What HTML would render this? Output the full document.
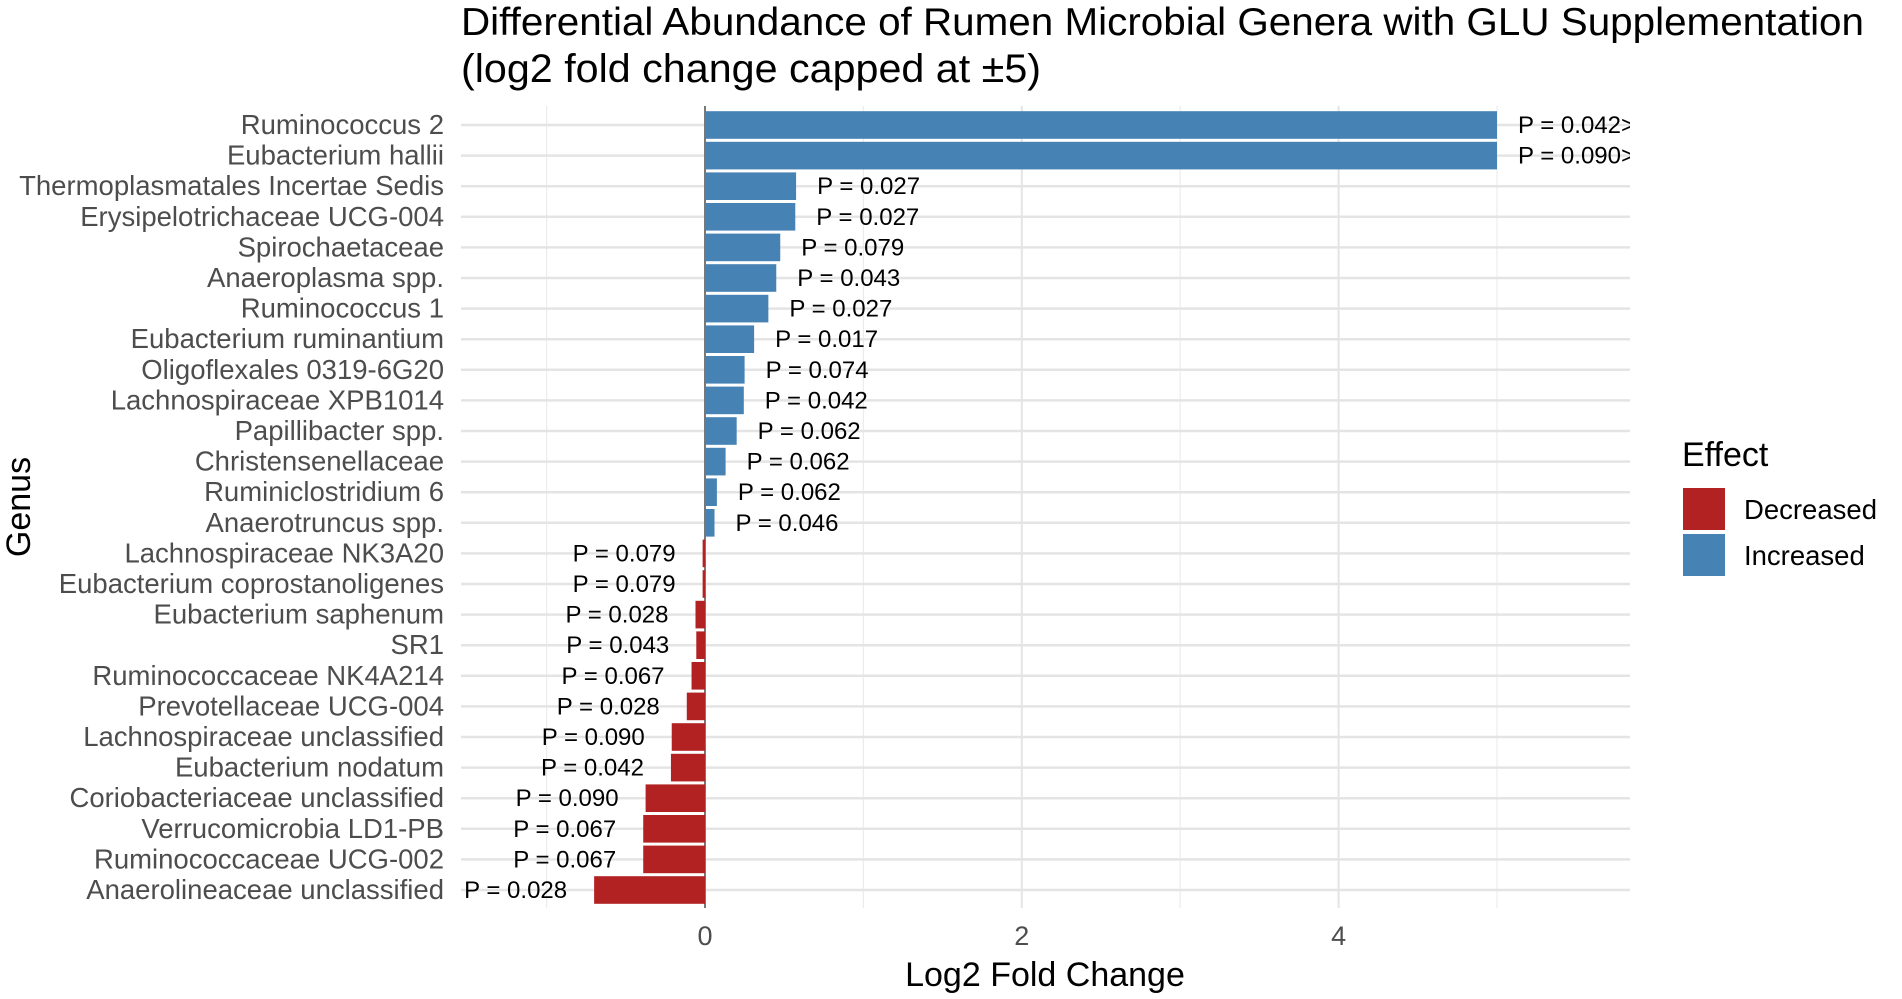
<!DOCTYPE html>
<html><head><meta charset="utf-8"><style>
html,body{margin:0;padding:0;background:#fff;}
svg{display:block;font-family:"Liberation Sans",Arial,sans-serif;}
</style></head><body>
<svg id="chart" width="1902" height="999" viewBox="0 0 1902 999">
<text x="461" y="35" font-size="39" fill="#000" textLength="1403" lengthAdjust="spacingAndGlyphs">Differential Abundance of Rumen Microbial Genera with GLU Supplementation</text>
<text x="461" y="82" font-size="40" fill="#000" textLength="580" lengthAdjust="spacingAndGlyphs">(log2 fold change capped at ±5)</text>
<g id="grid"></g>
<g id="bars"></g>
<text x="1045" y="986" font-size="34" text-anchor="middle" fill="#000">Log2 Fold Change</text>
<text transform="translate(30,507) rotate(-90)" font-size="34" text-anchor="middle" fill="#000">Genus</text>
<g>
<text x="1682" y="466" font-size="34" fill="#000">Effect</text>
<rect x="1683" y="488" width="42" height="42" fill="#B22222"/>
<text x="1744" y="519" font-size="27.5" fill="#000">Decreased</text>
<rect x="1683" y="534" width="42" height="42" fill="#4682B4"/>
<text x="1744" y="565" font-size="27.5" fill="#000">Increased</text>
</g>
<defs><clipPath id="panel"><rect x="461" y="106" width="1169" height="802"/></clipPath></defs>
</svg>
<script>
const genera = ["Ruminococcus 2","Eubacterium hallii","Thermoplasmatales Incertae Sedis","Erysipelotrichaceae UCG-004","Spirochaetaceae","Anaeroplasma spp.","Ruminococcus 1","Eubacterium ruminantium","Oligoflexales 0319-6G20","Lachnospiraceae XPB1014","Papillibacter spp.","Christensenellaceae","Ruminiclostridium 6","Anaerotruncus spp.","Lachnospiraceae NK3A20","Eubacterium coprostanoligenes","Eubacterium saphenum","SR1","Ruminococcaceae NK4A214","Prevotellaceae UCG-004","Lachnospiraceae unclassified","Eubacterium  nodatum","Coriobacteriaceae unclassified","Verrucomicrobia LD1-PB","Ruminococcaceae UCG-002","Anaerolineaceae unclassified"];
const log2fc = [5,5,0.575,0.57,0.475,0.45,0.40,0.31,0.25,0.245,0.20,0.13,0.075,0.06,-0.015,-0.015,-0.06,-0.055,-0.085,-0.115,-0.21,-0.215,-0.375,-0.39,-0.39,-0.70];
const pLabels = ["P = 0.042>","P = 0.090>","P = 0.027","P = 0.027","P = 0.079","P = 0.043","P = 0.027","P = 0.017","P = 0.074","P = 0.042","P = 0.062","P = 0.062","P = 0.062","P = 0.046","P = 0.079","P = 0.079","P = 0.028","P = 0.043","P = 0.067","P = 0.028","P = 0.090","P = 0.042","P = 0.090","P = 0.067","P = 0.067","P = 0.028"];
const xTicks = [0,2,4];
const xMinor = [-1,1,3,5];

const NS="http://www.w3.org/2000/svg";
const svg=document.getElementById('chart');
const grid=document.getElementById('grid');
const barsG=document.getElementById('bars');
const X0=705, UNIT=158.4, PT=106, PB=908, PL=461, PR=1630;
const ROW0=125, STEP=30.6;
const xs=v=>X0+v*UNIT;
const ys=i=>ROW0+i*STEP;
function mk(tag,attrs,parent){const e=document.createElementNS(NS,tag);for(const k in attrs)e.setAttribute(k,attrs[k]);parent.appendChild(e);return e;}

xMinor.forEach(v=>{
  const l=mk('line',{x1:xs(v),x2:xs(v),y1:PT,y2:PB,stroke:'#ececec','stroke-width':1.2},grid);
  
  
});
xTicks.forEach(v=>{
  const l=mk('line',{x1:xs(v),x2:xs(v),y1:PT,y2:PB,stroke:'#e4e4e4','stroke-width':2},grid);
  
  
  const t=mk('text',{x:xs(v),y:945,'font-size':27,'text-anchor':'middle',fill:'#4d4d4d'},svg);
  t.textContent=String(v);
  
  
});
genera.forEach((g,i)=>{
  const l=mk('line',{x1:PL,x2:PR,y1:ys(i),y2:ys(i),stroke:'#e4e4e4','stroke-width':2.5},grid);
  
  
  const t=mk('text',{x:444,y:ys(i)+9,'font-size':27.5,'text-anchor':'end',fill:'#4d4d4d'},svg);
  t.textContent=g;
  
  
});
mk('line',{x1:X0,x2:X0,y1:PT,y2:PB,stroke:'#555','stroke-width':1.5},grid);
genera.forEach((g,i)=>{
  const v=log2fc[i];
  const x1=xs(Math.min(0,v)), x2=xs(Math.max(0,v));
  const r=mk('rect',{x:x1,y:ys(i)-13.8,width:Math.max(1,x2-x1),height:27.6,fill:v>=0?'#4682B4':'#B22222'},barsG);
  
  
  const t=mk('text',{x:v>=0?xs(v)+21:xs(v)-27,y:ys(i)+8,'font-size':24,'text-anchor':v>=0?'start':'end',fill:'#000','clip-path':'url(#panel)'},barsG);
  t.textContent=pLabels[i];
  
  
});
</script>
</body></html>
